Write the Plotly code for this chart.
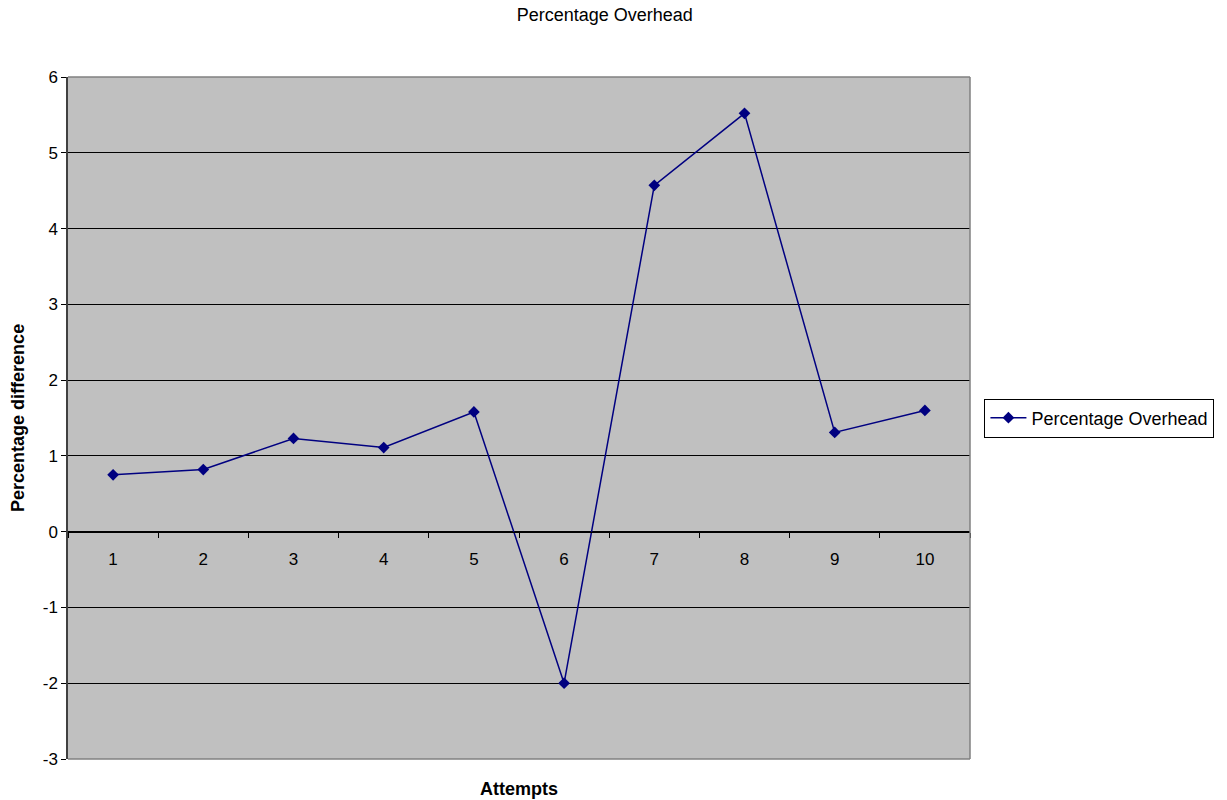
import plotly.graph_objects as go

attempts = ["1", "2", "3", "4", "5", "6", "7", "8", "9", "10"]
overhead = [0.75, 0.82, 1.23, 1.11, 1.58, -2.0, 4.57, 5.52, 1.31, 1.60]
y_ticks = [-3, -2, -1, 0, 1, 2, 3, 4, 5, 6]
y_tick_text = ["-3", "-2", "-1", "0", "1", "2", "3", "4", "5", "6"]

FONT = "Liberation Sans, Arial, sans-serif"

fig = go.Figure()
fig.add_trace(go.Scatter(
    x=attempts, y=overhead, mode="lines+markers",
    name="Percentage Overhead",
    line=dict(color="#000080", width=1.5),
    marker=dict(symbol="diamond", size=9, color="#000080"),
))

fig.update_layout(
    width=1227, height=800,
    margin=dict(l=68, r=257, t=77, b=41),
    paper_bgcolor="white", plot_bgcolor="#C0C0C0",
    font=dict(family=FONT, size=16, color="black"),
    title=dict(text="Percentage Overhead", x=0.595, xref="paper", xanchor="center",
               y=0.99, yref="container", yanchor="top",
               font=dict(size=18, family=FONT)),
    showlegend=True,
    legend=dict(x=1.016, xanchor="left", y=0.5, yanchor="middle",
                bordercolor="black", borderwidth=1, bgcolor="white",
                itemwidth=36,
                font=dict(size=18, family=FONT)),
    xaxis=dict(
        type="category", anchor="free", position=1/3,
        range=[-0.5, 9.5], autorange=False,
        showline=True, linecolor="black", linewidth=1,
        ticks="outside", tickson="boundaries", ticklen=5, tickcolor="black",
        showgrid=False, zeroline=False,
        ticklabelstandoff=12,
        tickfont=dict(size=17),
    ),
    yaxis=dict(
        range=[-3, 6], tickvals=y_ticks, ticktext=y_tick_text,
        showline=True, linecolor="#404040", linewidth=1.5,
        ticks="outside", ticklen=5, tickcolor="black",
        showgrid=True, gridcolor="black", gridwidth=1,
        zeroline=False, tickfont=dict(size=17),
    ),
    annotations=[
        dict(text="<b>Attempts</b>", x=0.5, y=-0.026, xref="paper", yref="paper",
             xanchor="center", yanchor="top", showarrow=False, font=dict(size=18)),
        dict(text="<b>Percentage difference</b>", x=-0.0555, y=0.5, xref="paper", yref="paper",
             xanchor="center", yanchor="middle", textangle=-90, showarrow=False,
             font=dict(size=18)),
    ],
    shapes=[
        dict(type="line", xref="paper", yref="paper", x0=0, x1=1, y0=1, y1=1,
             line=dict(color="#808080", width=1.5)),
        dict(type="line", xref="paper", yref="paper", x0=1, x1=1, y0=0, y1=1,
             line=dict(color="#808080", width=1.5)),
        dict(type="line", xref="paper", yref="paper", x0=0, x1=1, y0=0, y1=0,
             line=dict(color="#808080", width=1.5)),
    ],
)

fig.write_html("out.html", config={"displayModeBar": False},
               post_script="document.body.style.margin='0';document.body.style.overflow='hidden';")
